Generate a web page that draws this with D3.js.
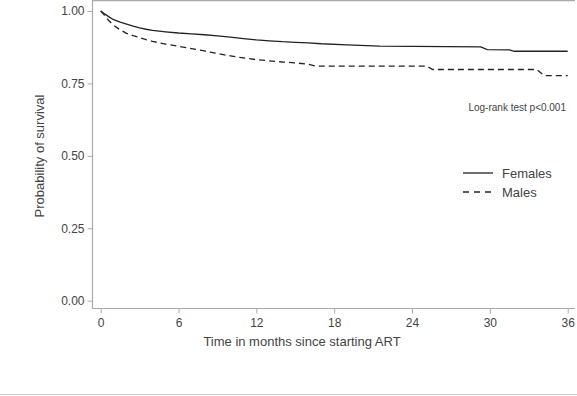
<!DOCTYPE html>
<html>
<head>
<meta charset="utf-8">
<script src="https://cdn.jsdelivr.net/npm/d3@7"></script>
<style>
  body { margin: 0; background: #fff; }
  svg { display: block; font-family: "Liberation Sans", Arial, sans-serif; }
</style>
</head>
<body>
<svg width="577" height="396"></svg>
<script>
// Kaplan-Meier estimates
var femaleTime  = [0, 0.3, 0.7, 1, 1.5, 2, 2.5, 3, 3.5, 4, 5, 6, 7, 8, 9, 10, 11, 12, 13, 14, 15, 16, 17, 19, 21.5, 29.3, 29.8, 31.5, 31.9, 36];
var femaleSurv  = [1.0, 0.99, 0.978, 0.97, 0.962, 0.955, 0.948, 0.942, 0.937, 0.933, 0.928, 0.924, 0.921, 0.918, 0.914, 0.91, 0.905, 0.9, 0.897, 0.894, 0.892, 0.89, 0.887, 0.883, 0.879, 0.876, 0.867, 0.866, 0.861, 0.861];
var maleTime    = [0, 0.3, 0.6, 1, 1.5, 2, 2.5, 3, 3.5, 4, 5, 6, 7, 8, 9, 10, 11, 12, 13, 14, 15, 16, 16.6, 25.1, 25.6, 33.6, 34.2, 36];
var maleSurv    = [1.0, 0.985, 0.968, 0.95, 0.935, 0.923, 0.915, 0.908, 0.901, 0.895, 0.886, 0.878, 0.87, 0.862, 0.853, 0.845, 0.838, 0.832, 0.828, 0.824, 0.821, 0.816, 0.81, 0.81, 0.798, 0.798, 0.777, 0.777];
var xTicks = [0, 6, 12, 18, 24, 30, 36];
var yTicks = [0, 0.25, 0.5, 0.75, 1];
var seriesNames = ["Females", "Males"];

var svg = d3.select("svg");
var textCol = "#444", axisCol = "#aaa", lineCol = "#222";

var x = d3.scaleLinear().domain([0, 36]).range([100.7, 567.7]);
var y = d3.scaleLinear().domain([0, 1]).range([300.7, 11]);

// frame: top line, left axis, bottom axis
svg.append("line").attr("x1", 92).attr("x2", 575).attr("y1", 0.5).attr("y2", 0.5)
    .style("stroke", axisCol).style("stroke-width", 1.5);
svg.append("line").attr("x1", 92.5).attr("x2", 92.5).attr("y1", 0).attr("y2", 308.5)
    .style("stroke", axisCol).style("stroke-width", 1.2);
svg.append("line").attr("x1", 92).attr("x2", 575).attr("y1", 308.5).attr("y2", 308.5)
    .style("stroke", axisCol).style("stroke-width", 1.2);

// page separator at the bottom
svg.append("line").attr("x1", 0).attr("x2", 577).attr("y1", 394.5).attr("y2", 394.5)
    .style("stroke", "#ccc").style("stroke-width", 1);

// y axis
var yAxis = svg.append("g")
    .attr("transform", "translate(92.5,0)")
    .call(d3.axisLeft(y).tickValues(yTicks).tickFormat(d3.format(".2f")).tickSize(5).tickPadding(3));
yAxis.select(".domain").remove();
yAxis.selectAll("line").style("stroke", axisCol);
yAxis.selectAll("text").style("fill", textCol).style("font-size", "12px")
    .style("font-family", "Liberation Sans, Arial, sans-serif");

// x axis
var xAxis = svg.append("g")
    .attr("transform", "translate(0,308.5)")
    .call(d3.axisBottom(x).tickValues(xTicks).tickSize(5).tickPadding(5));
xAxis.select(".domain").remove();
xAxis.selectAll("line").style("stroke", axisCol);
xAxis.selectAll("text").style("fill", textCol).style("font-size", "12px")
    .style("font-family", "Liberation Sans, Arial, sans-serif");

// axis titles
svg.append("text")
    .attr("x", 302).attr("y", 346)
    .attr("text-anchor", "middle")
    .style("font-size", "13px").style("fill", textCol)
    .text("Time in months since starting ART");

svg.append("text")
    .attr("transform", "translate(44,156) rotate(-90)")
    .attr("text-anchor", "middle")
    .style("font-size", "13px").style("fill", textCol)
    .text("Probability of survival");

// curves
var line = d3.line()
    .x(function(d) { return x(d[0]); })
    .y(function(d) { return y(d[1]); });

var female = femaleTime.map(function(t, i) { return [t, femaleSurv[i]]; });
var male = maleTime.map(function(t, i) { return [t, maleSurv[i]]; });

svg.append("path").datum(female)
    .attr("d", line)
    .style("fill", "none").style("stroke", lineCol).style("stroke-width", 1.3);

svg.append("path").datum(male)
    .attr("d", line)
    .style("fill", "none").style("stroke", lineCol).style("stroke-width", 1.3)
    .style("stroke-dasharray", "6,4");

// annotation
svg.append("text")
    .attr("x", 566).attr("y", 111)
    .attr("text-anchor", "end")
    .style("font-size", "10px").style("fill", textCol)
    .text("Log-rank test p<0.001");

// legend
var legend = svg.selectAll(".leg")
    .data(seriesNames)
    .enter()
    .append("g")
    .attr("class", "leg")
    .attr("transform", function(d, i) { return "translate(463," + (173 + i * 19) + ")"; });

legend.append("line")
    .attr("x1", 0).attr("x2", 30).attr("y1", 0).attr("y2", 0)
    .style("stroke", lineCol).style("stroke-width", 1.3)
    .style("stroke-dasharray", function(d, i) { return i ? "6,5" : null; });

legend.append("text")
    .attr("x", 39).attr("y", 4.5)
    .style("font-size", "13px").style("fill", textCol)
    .text(function(d) { return d; });
</script>
</body>
</html>
